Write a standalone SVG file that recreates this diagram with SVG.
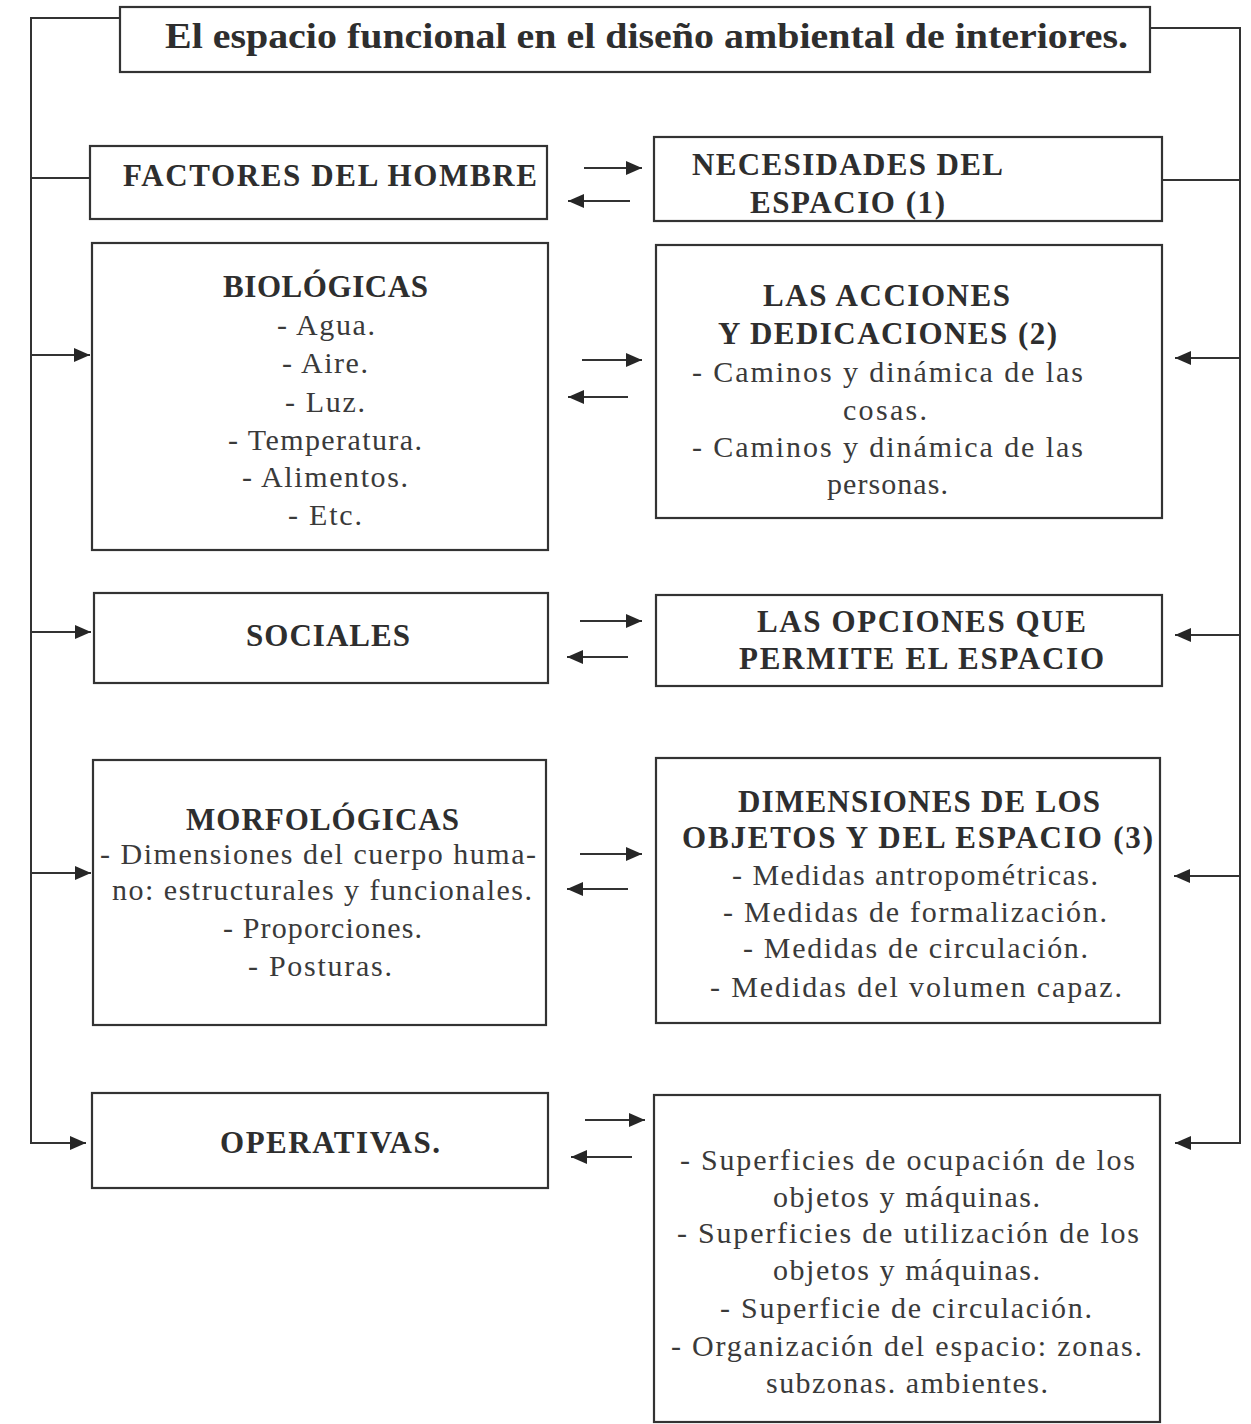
<svg xmlns="http://www.w3.org/2000/svg" width="1251" height="1424" viewBox="0 0 1251 1424">
<defs>
<style>
.box{fill:none;stroke:#333;stroke-width:2.2}
.ln{fill:none;stroke:#333;stroke-width:2}
.t{font-family:"Liberation Serif","Times New Roman",serif;fill:#2e2e2e}
.h{font-weight:bold;font-size:31px}
.b{font-size:30px;fill:#3a3a3a}
.ti{font-weight:bold;font-size:35px}
</style>
<marker id="ah" viewBox="0 0 16 14" refX="16" refY="7" markerWidth="16" markerHeight="14" markerUnits="userSpaceOnUse" orient="auto">
<path d="M0,0 L16,7 L0,14 Z" fill="#262626"/>
</marker>
</defs>
<rect width="1251" height="1424" fill="#fff"/>

<g id="connectors">
<polyline class="ln" points="120,18 31,18 31,1143 86,1143" marker-end="url(#ah)"/>
<line class="ln" x1="31" y1="178" x2="90" y2="178"/>
<line class="ln" x1="31" y1="355" x2="90" y2="355" marker-end="url(#ah)"/>
<line class="ln" x1="31" y1="632" x2="91" y2="632" marker-end="url(#ah)"/>
<line class="ln" x1="31" y1="873" x2="91" y2="873" marker-end="url(#ah)"/>
<polyline class="ln" points="1150,28 1240,28 1240,1143 1175,1143" marker-end="url(#ah)"/>
<line class="ln" x1="1162" y1="180" x2="1240" y2="180"/>
<line class="ln" x1="1240" y1="358" x2="1175" y2="358" marker-end="url(#ah)"/>
<line class="ln" x1="1240" y1="635" x2="1175" y2="635" marker-end="url(#ah)"/>
<line class="ln" x1="1240" y1="876" x2="1174" y2="876" marker-end="url(#ah)"/>
<line class="ln" x1="584" y1="168" x2="642" y2="168" marker-end="url(#ah)"/>
<line class="ln" x1="630" y1="201" x2="568" y2="201" marker-end="url(#ah)"/>
<line class="ln" x1="582" y1="360" x2="642" y2="360" marker-end="url(#ah)"/>
<line class="ln" x1="628" y1="397" x2="568" y2="397" marker-end="url(#ah)"/>
<line class="ln" x1="580" y1="621" x2="642" y2="621" marker-end="url(#ah)"/>
<line class="ln" x1="628" y1="657" x2="567" y2="657" marker-end="url(#ah)"/>
<line class="ln" x1="580" y1="854" x2="642" y2="854" marker-end="url(#ah)"/>
<line class="ln" x1="628" y1="889" x2="567" y2="889" marker-end="url(#ah)"/>
<line class="ln" x1="585" y1="1120" x2="645" y2="1120" marker-end="url(#ah)"/>
<line class="ln" x1="632" y1="1157" x2="571" y2="1157" marker-end="url(#ah)"/>
</g>

<g id="title">
<rect class="box" x="120" y="7" width="1030" height="65"/>
<text class="t ti" x="165" y="48" textLength="963" lengthAdjust="spacingAndGlyphs">El espacio funcional en el diseño ambiental de interiores.</text>
</g>

<g id="factores">
<rect class="box" x="90" y="146" width="457" height="73"/>
<text class="t h" x="123" y="186" textLength="414">FACTORES DEL HOMBRE</text>
</g>

<g id="biologicas">
<rect class="box" x="92" y="243" width="456" height="307"/>
<text class="t h" x="223" y="297" textLength="205">BIOLÓGICAS</text>
<text class="t b" x="277" y="335" textLength="98">- Agua.</text>
<text class="t b" x="282" y="373" textLength="86">- Aire.</text>
<text class="t b" x="285" y="412" textLength="80">- Luz.</text>
<text class="t b" x="228" y="450" textLength="194">- Temperatura.</text>
<text class="t b" x="242" y="487" textLength="166">- Alimentos.</text>
<text class="t b" x="288" y="525" textLength="74">- Etc.</text>
</g>

<g id="sociales">
<rect class="box" x="94" y="593" width="454" height="90"/>
<text class="t h" x="246" y="646" textLength="164">SOCIALES</text>
</g>

<g id="morfologicas">
<rect class="box" x="93" y="760" width="453" height="265"/>
<text class="t h" x="186" y="830" textLength="273">MORFOLÓGICAS</text>
<text class="t b" x="100" y="864" textLength="436">- Dimensiones del cuerpo huma-</text>
<text class="t b" x="112" y="900" textLength="420">no: estructurales y funcionales.</text>
<text class="t b" x="223" y="938" textLength="199">- Proporciones.</text>
<text class="t b" x="248" y="976" textLength="144">- Posturas.</text>
</g>

<g id="operativas">
<rect class="box" x="92" y="1093" width="456" height="95"/>
<text class="t h" x="220" y="1153" textLength="220">OPERATIVAS.</text>
</g>

<g id="necesidades">
<rect class="box" x="654" y="137" width="508" height="84"/>
<text class="t h" x="692" y="175" textLength="311">NECESIDADES DEL</text>
<text class="t h" x="750" y="213" textLength="195">ESPACIO (1)</text>
</g>

<g id="acciones">
<rect class="box" x="656" y="245" width="506" height="273"/>
<text class="t h" x="763" y="306" textLength="247">LAS ACCIONES</text>
<text class="t h" x="718" y="344" textLength="339">Y DEDICACIONES (2)</text>
<text class="t b" x="692" y="382" textLength="391">- Caminos y dinámica de las</text>
<text class="t b" x="843" y="420" textLength="84">cosas.</text>
<text class="t b" x="692" y="457" textLength="391">- Caminos y dinámica de las</text>
<text class="t b" x="827" y="494" textLength="121">personas.</text>
</g>

<g id="opciones">
<rect class="box" x="656" y="595" width="506" height="91"/>
<text class="t h" x="757" y="632" textLength="329">LAS OPCIONES QUE</text>
<text class="t h" x="739" y="669" textLength="365">PERMITE EL ESPACIO</text>
</g>

<g id="dimensiones">
<rect class="box" x="656" y="758" width="504" height="265"/>
<text class="t h" x="738" y="812" textLength="362">DIMENSIONES DE LOS</text>
<text class="t h" x="682" y="848" textLength="471">OBJETOS Y DEL ESPACIO (3)</text>
<text class="t b" x="732" y="885" textLength="366">- Medidas antropométricas.</text>
<text class="t b" x="723" y="922" textLength="384">- Medidas de formalización.</text>
<text class="t b" x="743" y="958" textLength="345">- Medidas de circulación.</text>
<text class="t b" x="710" y="997" textLength="412">- Medidas del volumen capaz.</text>
</g>

<g id="superficies">
<rect class="box" x="654" y="1095" width="506" height="327"/>
<text class="t b" x="680" y="1170" textLength="455">- Superficies de ocupación de los</text>
<text class="t b" x="773" y="1207" textLength="267">objetos y máquinas.</text>
<text class="t b" x="677" y="1243" textLength="462">- Superficies de utilización de los</text>
<text class="t b" x="773" y="1280" textLength="267">objetos y máquinas.</text>
<text class="t b" x="720" y="1318" textLength="372">- Superficie de circulación.</text>
<text class="t b" x="671" y="1356" textLength="471">- Organización del espacio: zonas.</text>
<text class="t b" x="766" y="1393" textLength="282">subzonas. ambientes.</text>
</g>
</svg>
